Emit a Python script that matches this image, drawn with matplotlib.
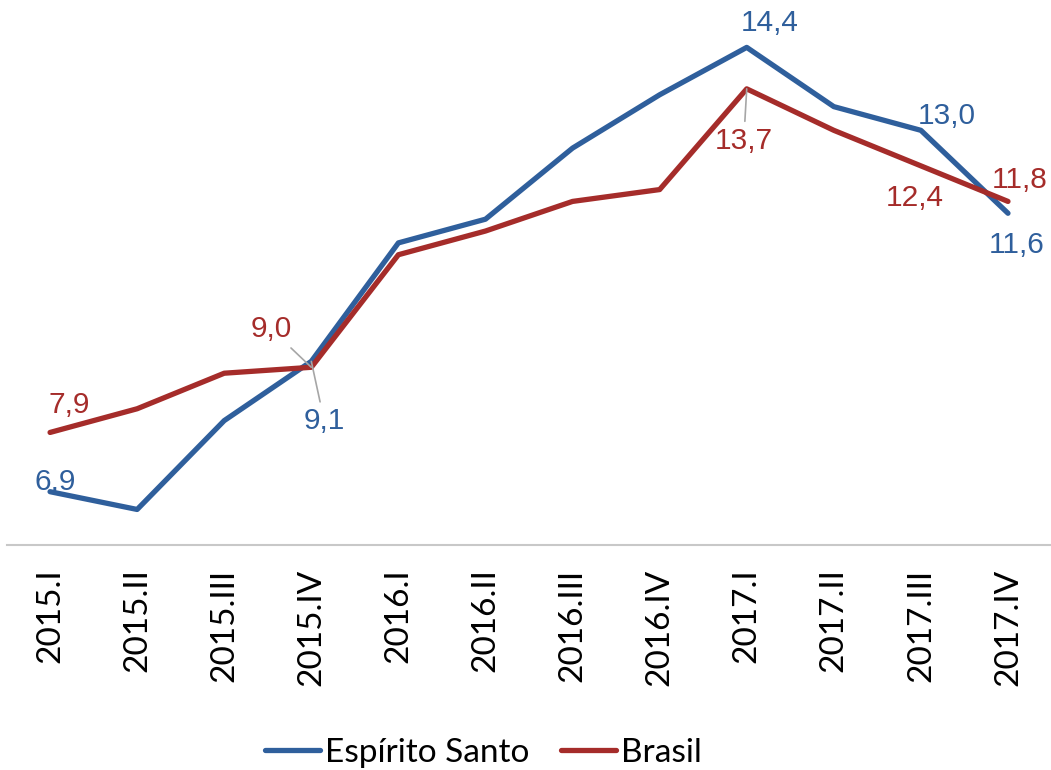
import matplotlib
matplotlib.use("Agg")
import matplotlib.pyplot as plt

# quarters and unemployment rates (%)
quarters = ["2015.I", "2015.II", "2015.III", "2015.IV",
            "2016.I", "2016.II", "2016.III", "2016.IV",
            "2017.I", "2017.II", "2017.III", "2017.IV"]
es_vals = [6.9, 6.6, 8.1, 9.1, 11.1, 11.5, 12.7, 13.6, 14.4, 13.4, 13.0, 11.6]
br_vals = [7.9, 8.3, 8.9, 9.0, 10.9, 11.3, 11.8, 12.0, 13.7, 13.0, 12.4, 11.8]

# which points get a value label
es_labeled = [0, 3, 8, 10, 11]
br_labeled = [0, 3, 8, 10, 11]

BLUE = "#2F5F9C"
RED = "#A52C2A"
GRAY = "#A6A6A6"

# label offsets in pixels (dx, dy up), keyed by index
es_off = {0: (5, 10), 3: (13, -60), 8: (23, 24), 10: (26, 14), 11: (9, -32)}
br_off = {0: (19, 27), 3: (-40, 38), 8: (-3, -52), 10: (-6, -32), 11: (12, 21)}
leaders = {("es", 3), ("br", 3), ("br", 8)}

fig = plt.figure(figsize=(10.51, 7.70), dpi=100)
ax = fig.add_axes([0.0062, 0.2922, 0.9943, 0.7078])

x = list(range(len(quarters)))
ax.plot(x, es_vals, color=BLUE, lw=3.8, solid_capstyle="round", label="Espírito Santo")
ax.plot(x, br_vals, color=RED, lw=3.8, solid_capstyle="round", label="Brasil")

px = 72 / 100.0  # pixels -> points


def fmt(v):
    return f"{v:.1f}".replace(".", ",")


for key, vals, idxs, offs, col in [("es", es_vals, es_labeled, es_off, BLUE),
                                   ("br", br_vals, br_labeled, br_off, RED)]:
    for i in idxs:
        dx, dy = offs[i]
        kw = {}
        if (key, i) in leaders:
            kw["arrowprops"] = dict(arrowstyle="-", color=GRAY, lw=1.2,
                                    shrinkA=2, shrinkB=0)
        ax.annotate(fmt(vals[i]), (i, vals[i]), xytext=(dx * px, dy * px),
                    textcoords="offset points", ha="center", va="center",
                    color=col, fontsize=21.5, family="Liberation Sans", **kw)

ax.set_xlim(-0.5, len(quarters) - 0.5)
ax.set_ylim(6, 15.2)
ax.set_xticks(x)
ax.set_xticklabels(quarters, rotation=90, fontsize=24, family="Lato")
ax.tick_params(axis="x", length=0, pad=17)
ax.set_yticks([])
for s in ["top", "left", "right"]:
    ax.spines[s].set_visible(False)
ax.spines["bottom"].set_color("#C8C8C8")
ax.spines["bottom"].set_linewidth(1.5)

fig.legend(loc="center", bbox_to_anchor=(0.46, 0.022), ncol=2, frameon=False,
           prop={"family": "Lato", "size": 24}, handlelength=1.65,
           handletextpad=0.15, columnspacing=0.95)

fig.savefig("out.png", dpi=100)
